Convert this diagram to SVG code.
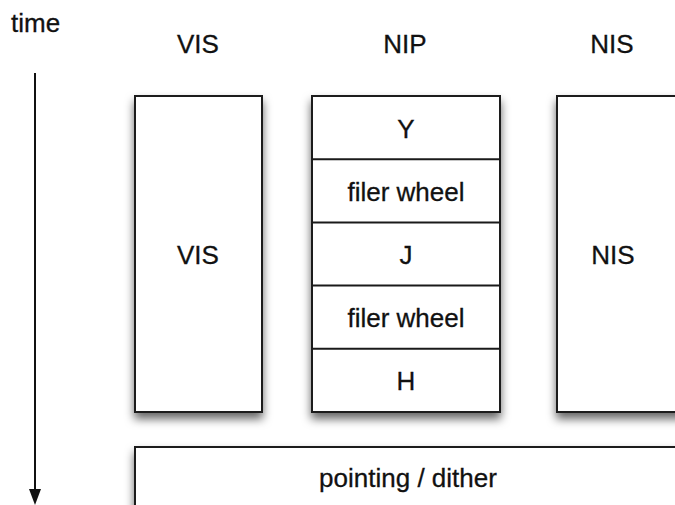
<svg xmlns="http://www.w3.org/2000/svg" width="675" height="505" viewBox="0 0 675 505">
  <defs>
    <filter id="shadow" x="-20%" y="-20%" width="140%" height="140%">
      <feDropShadow dx="0" dy="6" stdDeviation="5" flood-color="#000" flood-opacity="0.6"/>
    </filter>
  </defs>
  <style>
    .box { fill: #fff; stroke: #1a1a1a; stroke-width: 2; }
    .div { stroke: #1a1a1a; stroke-width: 2; }
    .lbl { font-family: "Liberation Sans", Arial, sans-serif; font-size: 26px; fill: #111; text-anchor: middle; stroke: #111; stroke-width: 0.3; }
    .axis { stroke: #111; stroke-width: 2; }
  </style>

  <!-- time axis -->
  <g id="connectors">
    <line class="axis" x1="35" y1="73" x2="35" y2="491"/>
    <polygon points="29,489 41,489 35,505" fill="#111"/>
  </g>
  <text class="lbl" x="11" y="32" style="text-anchor:start">time</text>

  <!-- column headers -->
  <text class="lbl" x="198" y="53">VIS</text>
  <text class="lbl" x="405" y="53">NIP</text>
  <text class="lbl" x="612" y="53">NIS</text>

  <!-- VIS column -->
  <g id="vis">
    <rect class="box" x="135" y="96" width="127" height="316" filter="url(#shadow)"/>
    <text class="lbl" x="198" y="264">VIS</text>
  </g>

  <!-- NIP column: filter sequence -->
  <g id="nip">
    <rect class="box" x="312" y="96" width="188" height="316" filter="url(#shadow)"/>
    <line class="div" x1="312" y1="159.2" x2="500" y2="159.2"/>
    <line class="div" x1="312" y1="222.4" x2="500" y2="222.4"/>
    <line class="div" x1="312" y1="285.6" x2="500" y2="285.6"/>
    <line class="div" x1="312" y1="348.8" x2="500" y2="348.8"/>
    <text class="lbl" x="406" y="138">Y</text>
    <text class="lbl" x="406" y="201">filer wheel</text>
    <text class="lbl" x="406" y="264">J</text>
    <text class="lbl" x="406" y="327">filer wheel</text>
    <text class="lbl" x="406" y="390">H</text>
  </g>

  <!-- NIS column -->
  <g id="nis">
    <rect class="box" x="557" y="96" width="140" height="316" filter="url(#shadow)"/>
    <text class="lbl" x="613" y="264">NIS</text>
  </g>

  <!-- pointing / dither strip -->
  <g id="pointing">
    <rect class="box" x="135" y="447" width="600" height="100" filter="url(#shadow)"/>
    <text class="lbl" x="408" y="487">pointing / dither</text>
  </g>
</svg>
